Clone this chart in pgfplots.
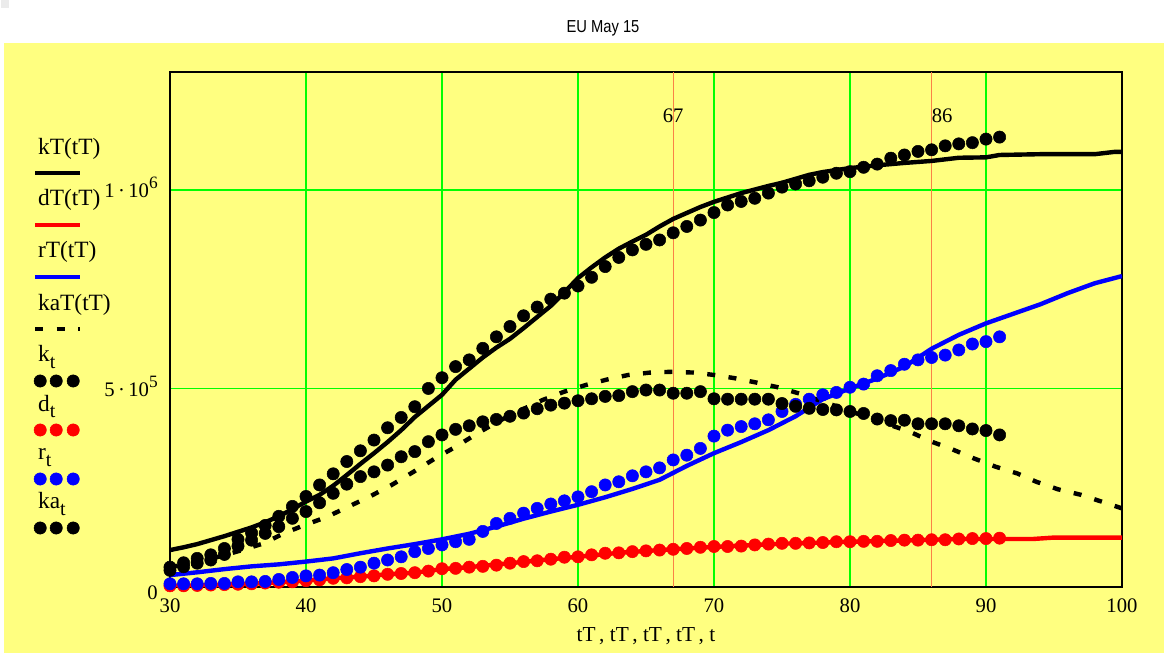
\documentclass[border=0pt]{standalone}
\usepackage{fontspec}
\setmainfont{Liberation Serif}
\newfontfamily\titlefont[FakeStretch=0.85]{Liberation Sans}
\usepackage{pgfplots}
\pgfplotsset{compat=1.18}
\definecolor{bgyellow}{RGB}{255,255,128}
\definecolor{gridgreen}{RGB}{0,255,0}
\definecolor{markorange}{RGB}{250,130,70}
\definecolor{cblue}{RGB}{0,0,255}
\definecolor{cred}{RGB}{255,0,0}
\newcommand{\legfont}{\fontsize{17.5}{20}\selectfont}
\newcommand{\sub}[1]{\raisebox{-0.27em}{\fontsize{15}{15}\selectfont #1}}
\newcommand{\sups}[1]{\raisebox{0.45em}{\fontsize{13}{13}\selectfont #1}}

\pgfplotsset{
  linelegend/.style={legend image code/.code={
     \path[draw=none, fill=none] (0pt,-9.75pt) rectangle (37.5pt,29.25pt);
     \draw[##1] (0pt,0pt) -- (33.75pt,0pt);
     \node[anchor=base west, inner sep=0pt, draw=none, fill=none, font=\legfont, text=black] at (2.25pt,14.25pt) {#1};
  }},
  dotlegend/.style={legend image code/.code={
     \path[draw=none, fill=none] (0pt,-7.5pt) rectangle (37.5pt,29.25pt);
     \draw[##1] plot coordinates {(3.75pt,0pt) (15.75pt,0pt) (28.5pt,0pt)};
     \node[anchor=base west, inner sep=0pt, draw=none, fill=none, font=\legfont, text=black] at (2.25pt,14.25pt) {#1};
  }},
  dots/.style={only marks, mark=*, mark size=4.6pt},
  thickline/.style={line width=3.3pt, no marks},
}

\pgfplotstableread{
x y
30 93000
31 100000
32 108000
33 118000
34 128000
35 139000
36 150000
37 163000
38 178000
39 196000
40 215000
41 232000
42 255000
43 282000
44 310000
45 337000
46 365000
47 395000
48 428000
49 456000
50 484000
51 522000
52 550000
53 578000
54 603000
55 625000
56 652000
57 680000
58 708000
59 742000
60 778000
61 805000
62 830000
63 852000
64 870000
65 887000
66 908000
67 927000
68 942000
69 957000
70 970000
72 992000
74 1010000
75 1018000
76 1028000
77 1038000
78 1045000
80 1055000
82 1062000
84 1068000
86 1073000
88 1081000
90 1082000
91 1088000
94 1090000
98 1090000
99.5 1096000
100 1096000
}\kTtab

\pgfplotstableread{
x y
30 3000
32 4000
34 6000
36 8000
38 12000
40 16000
42 22000
44 26000
46 32000
48 36000
50 45000
52 50000
55 60000
58 70000
60 76000
63 86000
66 93000
70 101000
75 109000
80 114000
85 118000
88 121000
91 121000
93.5 121000
95 124500
100 124500
}\dTtab

\pgfplotstableread{
x y
30 30000
32 37000
34 45000
36 52000
38 57000
40 64000
42 72000
44 85000
46 97000
48 108000
50 120000
52 134000
54 152000
56 172000
58 190000
60 207000
62 226000
64 247000
66 270000
68 305000
70 337000
72 365000
74 395000
76 430000
78 473000
80 500000
82 525000
84 555000
86 600000
88 635000
90 664000
92 688000
94 712000
96 740000
98 765000
100 783000
}\rTtab

\pgfplotstableread{
x y
30 50000
32 62000
34 80000
35.3 93000
36.9 110000
38.3 134000
39.9 156000
41.5 176000
43.1 202000
44.7 228000
46.3 257000
47.9 290000
49.5 324000
51.1 355000
52.7 389000
54.3 420000
55.9 447000
57.4 471000
59.0 492000
60.6 509000
62.2 523000
63.7 534000
65.3 540000
66.9 542000
68.5 540000
70.0 534000
71.5 526000
73.1 515000
74.7 503000
76.3 487000
78 467000
80 443000
82 419000
84.4 391000
86.0 366000
87.5 347000
89.1 324000
90.7 303000
92.3 286000
93.7 265000
95.3 246000
97.0 232000
98.5 215000
100 198000
}\kaTtab

\pgfplotstableread{
t k d r ka
30 50000 3000 8000 42000
31 61000 3000 8000 51000
32 72000 4000 8000 60000
33 81000 5000 9000 68000
34 97000 6000 9000 82000
35 120000 7000 13000 103000
36 136000 8000 13000 118000
37 155000 10000 14000 135000
38 178000 12000 19000 152000
39 203000 13000 24000 173000
40 228000 16000 28000 190000
41 257000 18000 30000 212000
42 285000 22000 36000 236000
43 316000 23000 44000 259000
44 343000 26000 50000 278000
45 370000 28000 60000 290000
46 401000 32000 68000 307000
47 427000 34000 76000 328000
48 454000 36000 89000 341000
49 500000 40000 97000 366000
50 527000 46000 106000 383000
51 555000 47000 114000 397000
52 572000 50000 120000 406000
53 601000 52000 140000 416000
54 630000 55000 160000 422000
55 656000 60000 173000 430000
56 683000 64000 186000 438000
57 705000 66000 198000 449000
58 725000 70000 209000 458000
59 740000 75000 217000 463000
60 758000 76000 227000 469000
61 780000 81000 240000 474000
62 807000 85000 257000 480000
63 830000 86000 265000 482000
64 849000 89000 280000 492000
65 863000 91000 290000 496000
66 874000 93000 300000 496000
67 892000 95000 320000 488000
68 908000 97000 332000 488000
69 924000 100000 349000 492000
70 943000 102000 380000 474000
71 962000 102000 395000 473000
72 971000 103000 404000 473000
73 979000 106000 411000 473000
74 992000 108000 421000 473000
75 1007000 110000 442000 462000
76 1015000 110000 460000 455000
77 1023000 111000 473000 450000
78 1032000 112000 484000 447000
79 1042000 114000 490000 446000
80 1046000 114000 503000 442000
81 1057000 115000 511000 437000
82 1065000 115000 532000 423000
83 1080000 117000 545000 419000
84 1088000 118000 561000 420000
85 1097000 118000 572000 411000
86 1101000 119000 578000 411000
87 1111000 119000 584000 411000
88 1116000 121000 597000 406000
89 1119000 122000 612000 398000
90 1128000 122000 618000 394000
91 1133000 123000 630000 383000
}\dailytab

\begin{document}
\begin{tikzpicture}
\useasboundingbox (0,0) rectangle (873pt,489.75pt);
\fill[white] (0,0) rectangle (873pt,489.75pt);
\fill[black!8] (0.75pt,483.75pt) rectangle (6.75pt,489.75pt);
\fill[bgyellow] (3pt,0) rectangle (873pt,457.5pt);
\node[font=\titlefont\fontsize{13}{15}\selectfont] at (452.25pt,468.75pt) {EU May 15};
\begin{axis}[
  at={(127.5pt,49.5pt)}, anchor=south west,
  scale only axis, width=714pt, height=386.25pt,
  xmin=30, xmax=100, ymin=0, ymax=1297000,
  xtick={30,40,50,60,70,80,90,100},
  xticklabels={30,40,50,60,70,80,90,100},
  ytick={0,500000,1000000},
  yticklabels={\raisebox{-3.75pt}{0},{5\,·\,10\sups{5}},{1\,·\,10\sups{6}}},
  scaled y ticks=false,
  major tick length=0pt,
  grid=major, major grid style={gridgreen, line width=1pt},
  axis line style={black, line width=1.1pt},
  ticklabel style={font=\fontsize{15.5}{18}\selectfont},
  xticklabel style={anchor=base, inner sep=0pt, yshift=-19.5pt},
  yticklabel style={anchor=base east, inner sep=0pt, xshift=-9pt, yshift=-6pt},
  xlabel={tT\,, tT\,, tT\,, tT\,, t},
  xlabel style={at={(axis description cs:0.5,0)}, anchor=base, yshift=-41.25pt, font=\fontsize{16}{19}\selectfont},
  legend style={at={(axis description cs:-0.14391,0.87961)}, anchor=north west, draw=none, fill=none, inner sep=0pt, outer sep=0pt, row sep=0pt, column sep=0pt, nodes={inner sep=0pt, outer sep=0pt}},
  legend cell align=left,
]
\addplot[forget plot, markorange, line width=0.75pt] coordinates {(67,0) (67,1297000)};
\addplot[forget plot, markorange, line width=0.75pt] coordinates {(86,0) (86,1297000)};
\node[anchor=base, font=\fontsize{15.5}{18}\selectfont] at (axis cs:67,1169000) {67};
\node[anchor=base west, inner sep=0pt, font=\fontsize{15.5}{18}\selectfont] at (axis cs:86,1169000) {86};

\addplot[black, thickline, linelegend={kT(tT)}] table[x=x,y=y] {\kTtab};
\addlegendentry{\mbox{}}
\addplot[cred, thickline, linelegend={dT(tT)}] table[x=x,y=y] {\dTtab};
\addlegendentry{\mbox{}}
\addplot[cblue, thickline, linelegend={rT(tT)}] table[x=x,y=y] {\rTtab};
\addlegendentry{\mbox{}}
\addplot[black, thickline, dash pattern=on 6pt off 10.1pt, linelegend={kaT(tT)}] table[x=x,y=y] {\kaTtab};
\addlegendentry{\mbox{}}
\addplot[black, dots, dotlegend={k\sub{t}}] table[x=t,y=k] {\dailytab};
\addlegendentry{\mbox{}}
\addplot[cred, dots, dotlegend={d\sub{t}}] table[x=t,y=d] {\dailytab};
\addlegendentry{\mbox{}}
\addplot[cblue, dots, dotlegend={r\sub{t}}] table[x=t,y=r] {\dailytab};
\addlegendentry{\mbox{}}
\addplot[black, dots, dotlegend={ka\sub{t}}] table[x=t,y=ka] {\dailytab};
\addlegendentry{\mbox{}}
\end{axis}
\end{tikzpicture}
\end{document}
